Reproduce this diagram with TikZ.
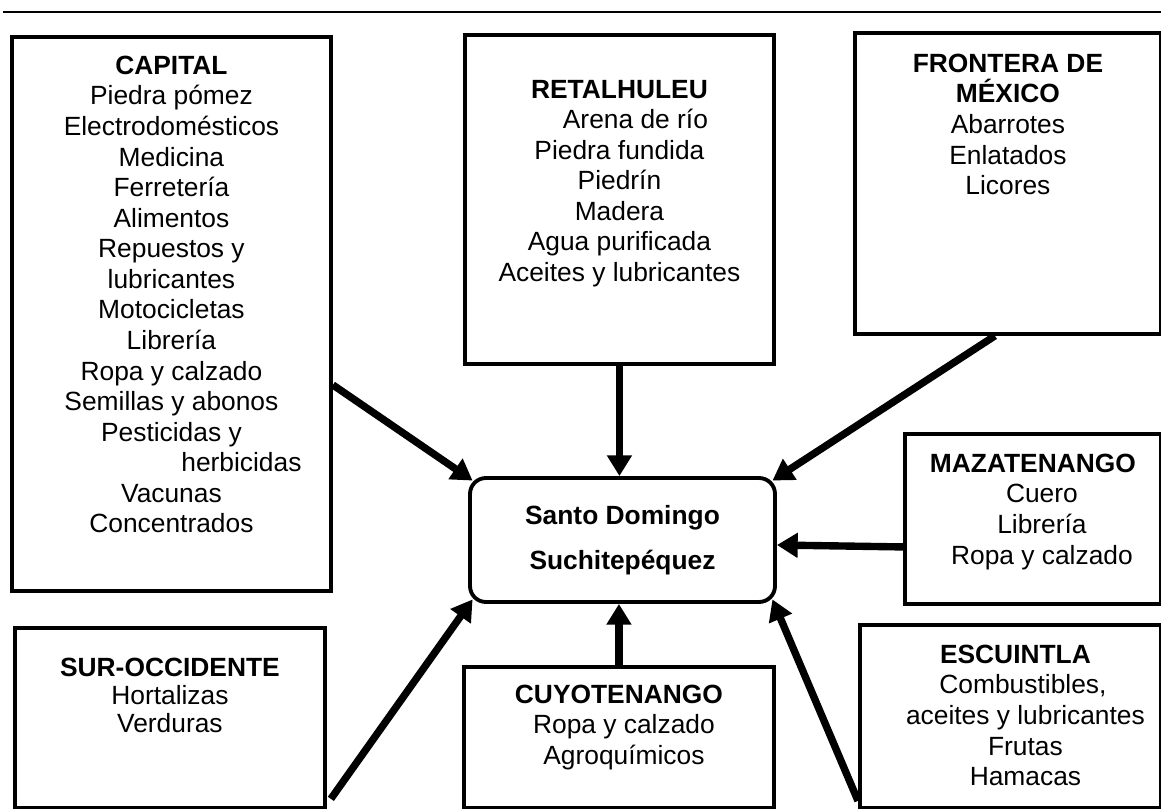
\documentclass[tikz,border=0pt]{standalone}
\usepackage{fontspec}
\setmainfont{Liberation Sans}
\usetikzlibrary{arrows.meta}
\tikzstyle{region} = [draw=black, line width=1.1pt, inner sep=0pt, anchor=north west,
font=\fontsize{7.5}{8.7}\selectfont]
\tikzstyle{centre} = [draw=black, line width=1.1pt, rounded corners=0.16cm,
minimum width=3.05cm, minimum height=1.24cm, align=center,
font=\bfseries\fontsize{7.5}{12.8}\selectfont]
\tikzstyle{arrow} = [line width=2.1pt, -{Triangle[length=5.9pt,width=6.8pt]}]
% box text: width, height, top padding, lines
\newcommand{\regiontext}[4]{\parbox[c][#2][t]{#1}{\vspace*{#3}\centering #4\par}}

\begin{document}
\begin{tikzpicture}
\useasboundingbox (0,0) rectangle (11.61,-8.09);

\draw [line width=0.45pt] (0.03,-0.12) -- (11.61,-0.12);

\node (cen) [centre] at (6.225,-5.40) {Santo Domingo\\Suchitepéquez};

\node (capital) [region] at (0.10,-0.35) {\regiontext{3.19cm}{5.54cm}{0.19cm}{%
\textbf{CAPITAL}\\
Piedra pómez\\
Electrodomésticos\\
Medicina\\
Ferretería\\
Alimentos\\
Repuestos y\\
lubricantes\\
Motocicletas\\
Librería\\
Ropa y calzado\\
Semillas y abonos\\
Pesticidas y\\
\hspace*{1.4cm}herbicidas\\
Vacunas\\
Concentrados}};
\node (retal) [region] at (4.63,-0.33) {\regiontext{3.09cm}{3.29cm}{0.45cm}{%
\textbf{RETALHULEU}\hspace*{0.2cm}\\
\hspace*{0.32cm}Arena de río\\
Piedra fundida\\
Piedrín\\
Madera\\
Agua purificada\\
Aceites y lubricantes}};
\node (frontera) [region] at (8.53,-0.31) {\regiontext{3.06cm}{3.01cm}{0.21cm}{%
\textbf{FRONTERA DE}\\
\textbf{MÉXICO}\\
Abarrotes\\
Enlatados\\
Licores}};
\node (maza) [region] at (9.03,-4.32) {\regiontext{2.56cm}{1.70cm}{0.20cm}{%
\textbf{MAZATENANGO}\\
\hspace*{0.18cm}Cuero\\
\hspace*{0.18cm}Librería\\
\hspace*{0.18cm}Ropa y calzado}};
\node (sur) [region] at (0.13,-6.26) {\regiontext{3.10cm}{1.80cm}{0.30cm}{%
\fontsize{7.5}{8}\selectfont
\textbf{SUR-OCCIDENTE}\\
Hortalizas\\
Verduras}};
\node (cuyo) [region] at (4.62,-6.65) {\regiontext{3.10cm}{1.41cm}{0.18cm}{%
\textbf{CUYOTENANGO}\\
\hspace*{0.1cm}Ropa y calzado\\
\hspace*{0.1cm}Agroquímicos}};
\node (escu) [region] at (8.58,-6.23) {\regiontext{3.01cm}{1.83cm}{0.20cm}{%
\hspace*{0.1cm}\textbf{ESCUINTLA}\\
\hspace*{0.25cm}Combustibles,\\
\hspace*{0.3cm}aceites y lubricantes\\
\hspace*{0.3cm}Frutas\\
\hspace*{0.3cm}Hamacas}};

\draw [arrow] ([yshift=-0.71cm]capital.east) -- ([shift={(0.045,-0.045)}]cen.north west);
\draw [arrow] (retal.south) -- (retal.south |- cen.north);
\draw [arrow] ([xshift=-0.13cm]frontera.south) -- ([shift={(-0.045,-0.045)}]cen.north east);
\draw [arrow] ([yshift=-0.28cm]maza.west) -- ([yshift=-0.05cm]cen.east);
\draw [arrow] ([yshift=0.09cm]escu.south west) -- ([shift={(-0.045,0.045)}]cen.south east);
\draw [arrow] (cuyo.north) -- (cuyo.north |- cen.south);
\draw [arrow] ([shift={(0.04,0.11)}]sur.south east) -- ([shift={(0.045,0.045)}]cen.south west);

\end{tikzpicture}
\end{document}
